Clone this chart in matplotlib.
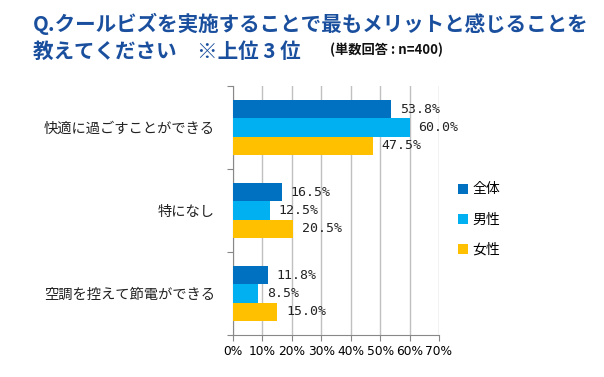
import matplotlib
matplotlib.use("Agg")
import matplotlib.pyplot as plt
from matplotlib.patches import Patch

plt.rcParams['font.family'] = ['Noto Sans CJK JP', 'DejaVu Sans']

categories = ['快適に過ごすことができる', '特になし', '空調を控えて節電ができる']
series_names = ['全体', '男性', '女性']
values_all = [53.8, 16.5, 11.8]
values_male = [60.0, 12.5, 8.5]
values_female = [47.5, 20.5, 15.0]
colors = ['#0070C0', '#00B0F0', '#FFC000']
xticks = [0, 10, 20, 30, 40, 50, 60, 70]

fig = plt.figure(figsize=(6.04, 3.77), dpi=100)
ax = fig.add_axes([233/604, 1 - 335/377, 206/604, 249/377])

bar_h = 0.217
series = [values_all, values_male, values_female]
for i, (vals, col) in enumerate(zip(series, colors)):
    for j, v in enumerate(vals):
        y = j + 0.5 + (i - 1) * bar_h
        ax.barh(y, v, height=bar_h, color=col, zorder=3)
        ax.text(v + 3.0, y, f'{v:.1f}%', va='center', ha='left',
                fontsize=9.5, family='DejaVu Sans Mono', color='#222222', zorder=4)

ax.set_xlim(0, 70)
ax.set_ylim(3, 0)
ax.set_xticks(xticks)
ax.set_xticklabels([f'{t}%' for t in xticks], fontsize=8.8, family='DejaVu Sans')
ax.tick_params(axis='x', length=4, color='#888888', pad=3)
ax.set_yticks([0, 1, 2, 3])
ax.set_yticklabels([])
ax.set_yticks([0.5, 1.5, 2.5], minor=True)
ax.set_yticklabels(categories, minor=True, fontsize=10.3, color='#222222')
ax.tick_params(axis='y', which='major', length=4, color='#888888')
ax.tick_params(axis='y', which='minor', length=0, pad=13)
ax.xaxis.grid(True, color='#C0C0C0', linewidth=1, zorder=0)
for s in ['top', 'right']:
    ax.spines[s].set_visible(False)
for s in ['left', 'bottom']:
    ax.spines[s].set_color('#888888')

handles = [Patch(facecolor=c, label=n) for c, n in zip(colors, series_names)]
fig.legend(handles=handles, loc='upper left', bbox_to_anchor=(445/604, 1 - 170/377),
           frameon=False, fontsize=10, handlelength=0.75, handleheight=0.75,
           handletextpad=0.3, labelspacing=1.15)

title_color = '#1A4F9E'
fig.text(33/604, 1 - 24/377, 'Q.クールビズを実施することで最もメリットと感じることを',
         fontsize=14.8, fontweight='bold', color=title_color, va='center', ha='left')
fig.text(33/604, 1 - 51/377, '教えてください　※上位 3 位',
         fontsize=14.8, fontweight='bold', color=title_color, va='center', ha='left')
fig.text(330/604, 1 - 50/377, '(単数回答 : n=400)',
         fontsize=9.5, fontweight='bold', color='#111111', va='center', ha='left')

fig.savefig('out.png', dpi=100)
